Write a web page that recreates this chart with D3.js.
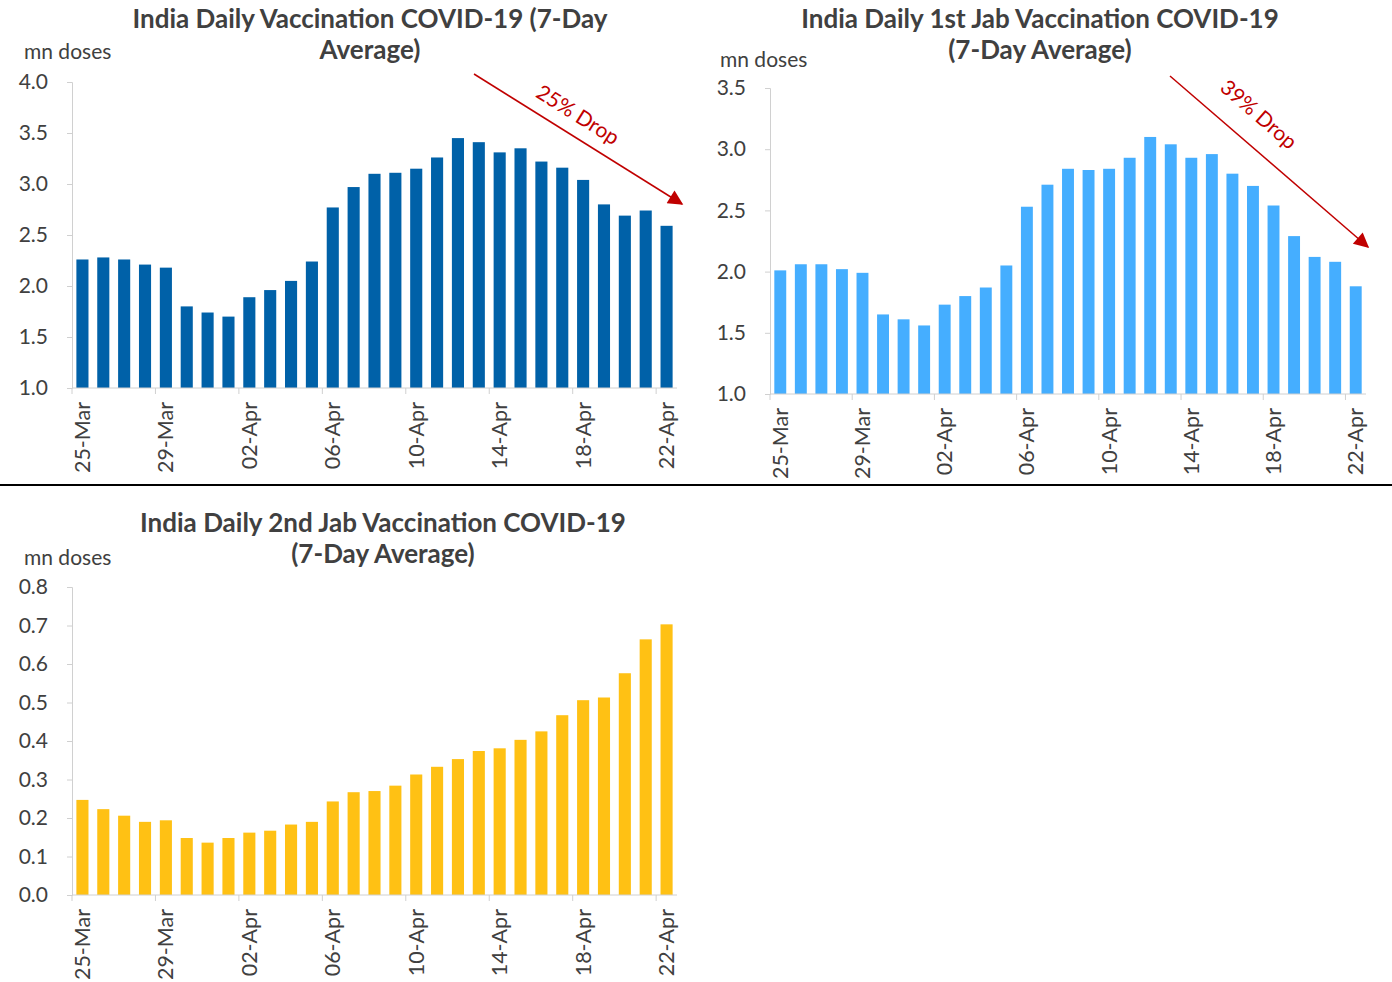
<!DOCTYPE html>
<html><head><meta charset="utf-8">
<script src="https://cdn.jsdelivr.net/npm/d3@7"></script>
<style>body{margin:0;background:#fff}svg{display:block;font-family:Lato,"Open Sans",sans-serif}</style>
</head><body><svg id="c" width="1392" height="982"></svg>
<script>
const dates = ["25-Mar","26-Mar","27-Mar","28-Mar","29-Mar","30-Mar","31-Mar","01-Apr","02-Apr","03-Apr","04-Apr","05-Apr","06-Apr","07-Apr","08-Apr","09-Apr","10-Apr","11-Apr","12-Apr","13-Apr","14-Apr","15-Apr","16-Apr","17-Apr","18-Apr","19-Apr","20-Apr","21-Apr","22-Apr"];
const totalDoses = [2.26,2.28,2.26,2.21,2.18,1.80,1.74,1.70,1.89,1.96,2.05,2.24,2.77,2.97,3.10,3.11,3.15,3.26,3.45,3.41,3.31,3.35,3.22,3.16,3.04,2.80,2.69,2.74,2.59];
const firstJab = [2.01,2.06,2.06,2.02,1.99,1.65,1.61,1.56,1.73,1.80,1.87,2.05,2.53,2.71,2.84,2.83,2.84,2.93,3.10,3.04,2.93,2.96,2.80,2.70,2.54,2.29,2.12,2.08,1.88];
const secondJab = [0.247,0.223,0.206,0.190,0.194,0.148,0.136,0.148,0.162,0.167,0.183,0.190,0.243,0.267,0.270,0.284,0.313,0.333,0.353,0.374,0.381,0.403,0.425,0.467,0.506,0.513,0.576,0.664,0.703];
const ticks1 = [1.0,1.5,2.0,2.5,3.0,3.5,4.0];
const ticks2 = [1.0,1.5,2.0,2.5,3.0,3.5];
const ticks3 = [0.0,0.1,0.2,0.3,0.4,0.5,0.6,0.7,0.8];
const titles = [["India Daily Vaccination COVID-19 (7-Day","Average)"],["India Daily 1st Jab Vaccination COVID-19","(7-Day Average)"],["India Daily 2nd Jab Vaccination COVID-19","(7-Day Average)"]];

const svg = d3.select("#c");
const textCol = "#404040", axisCol = "#d0d0d0";

svg.append("defs").append("marker").attr("id","arr").attr("viewBox","0 0 10 10")
  .attr("refX",9).attr("refY",5).attr("markerWidth",11).attr("markerHeight",10)
  .attr("markerUnits","strokeWidth").attr("orient","auto")
  .append("path").attr("d","M0,0 L10,5 L0,10 Z").attr("fill","#c00000");

function panel(o){
  const g = svg.append("g");
  const x = d3.scaleBand().domain(dates).range([o.x0,o.x1]).paddingInner(0.42).paddingOuter(0.21);
  const y = d3.scaleLinear().domain(o.dom).range([o.yb,o.yt]);
  const tt = g.append("text").attr("x",o.tx).attr("y",o.ty).attr("text-anchor","middle")
    .attr("font-size",26).attr("font-weight","bold").attr("fill",textCol);
  o.title.forEach((l,i)=>tt.append("tspan").attr("x",o.tx).attr("dy",i?31:0).text(l));
  g.append("text").attr("x",o.ux).attr("y",o.uy).attr("font-size",21).attr("fill",textCol).text("mn doses");
  g.selectAll("rect").data(o.vals).join("rect")
    .attr("x",(d,i)=>x(dates[i])).attr("width",x.bandwidth())
    .attr("y",d=>y(d)).attr("height",d=>y(o.dom[0])-y(d)).attr("fill",o.color);
  const ya = g.append("g").attr("transform",`translate(${o.x0},0)`)
    .call(d3.axisLeft(y).tickValues(o.ticks).tickFormat(d3.format(".1f")).tickSize(5).tickPadding(19));
  ya.select(".domain").attr("stroke",axisCol);
  ya.selectAll(".tick line").attr("stroke",axisCol);
  ya.selectAll(".tick text").attr("font-size",21).attr("fill",textCol).attr("font-family","Lato");
  const xa = g.append("g").attr("transform",`translate(0,${o.yb})`);
  xa.append("line").attr("x1",o.x0).attr("x2",o.x1).attr("stroke",axisCol);
  const idx = d3.range(0,dates.length,4);
  const tx = i=>x(dates[i])-x.step()*x.paddingInner()/2;
  xa.selectAll("line.t").data(idx).join("line").attr("class","t")
    .attr("x1",tx).attr("x2",tx).attr("y1",0).attr("y2",6).attr("stroke",axisCol);
  xa.selectAll("text").data(idx).join("text")
    .attr("transform",i=>`translate(${x(dates[i])+x.bandwidth()/2},14) rotate(-90)`)
    .attr("text-anchor","end").attr("dy","0.35em").attr("font-size",21.5).attr("fill",textCol)
    .text(i=>dates[i]);
  if(o.arrow){
    const a=o.arrow;
    g.append("line").attr("x1",a[0]).attr("y1",a[1]).attr("x2",a[2]).attr("y2",a[3])
      .attr("stroke","#c00000").attr("stroke-width",1.5).attr("marker-end","url(#arr)");
    const ang = Math.atan2(a[3]-a[1],a[2]-a[0])*180/Math.PI;
    g.append("text").attr("transform",`translate(${o.lab[0]},${o.lab[1]}) rotate(${ang})`)
      .attr("text-anchor","middle").attr("font-size",21).attr("fill","#c00000").text(o.lab[2]);
  }
}

panel({x0:72,x1:677,yt:82,yb:388,dom:[1,4],ticks:ticks1,vals:totalDoses,color:"#0061a8",
  title:titles[0],tx:370,ty:28,ux:24,uy:59,arrow:[474,74,682,204],lab:[574,121,"25% Drop"]});
panel({x0:770,x1:1366,yt:88,yb:394,dom:[1,3.5],ticks:ticks2,vals:firstJab,color:"#45aeff",
  title:titles[1],tx:1040,ty:28,ux:720,uy:67,arrow:[1170,76,1368,247],lab:[1254,120,"39% Drop"]});
panel({x0:72,x1:677,yt:587,yb:895,dom:[0,0.8],ticks:ticks3,vals:secondJab,color:"#ffc114",
  title:titles[2],tx:383,ty:532,ux:24,uy:565});

svg.append("line").attr("x1",0).attr("x2",1392).attr("y1",485).attr("y2",485).attr("stroke","#000").attr("stroke-width",2);
</script></body></html>
